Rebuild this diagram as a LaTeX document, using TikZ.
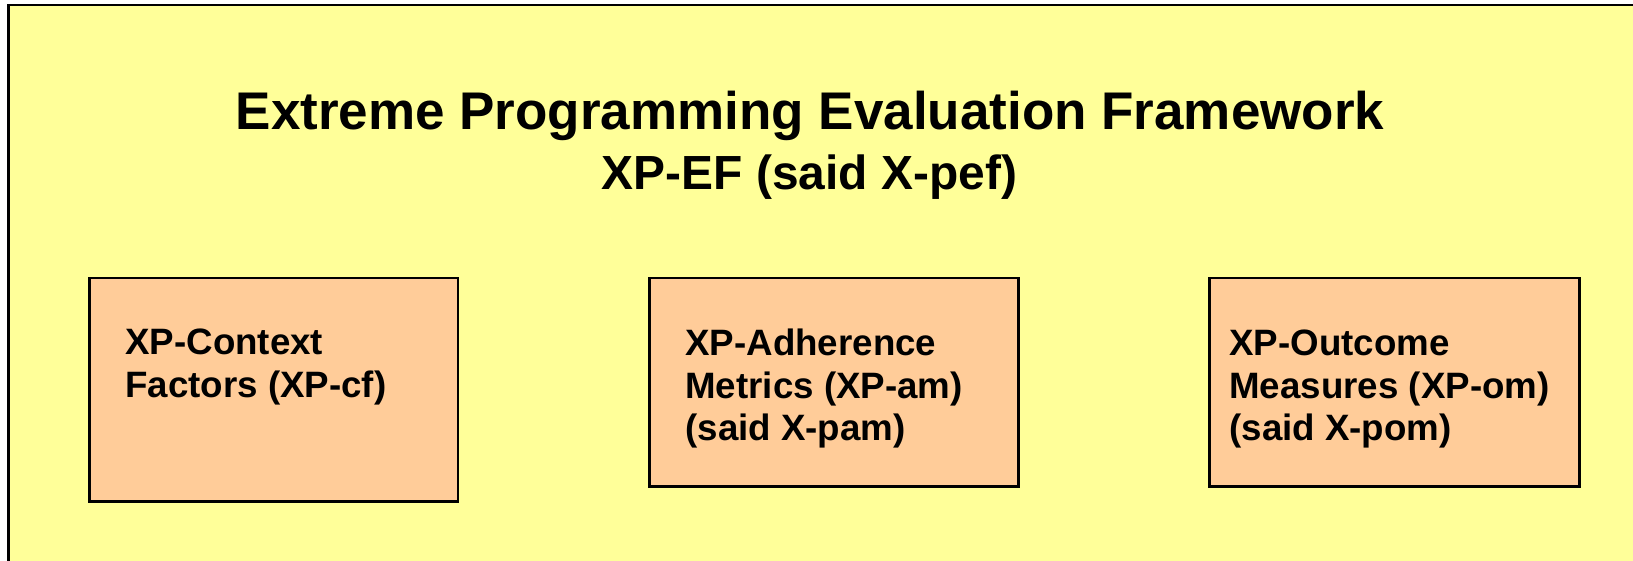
\documentclass[tikz,border=0pt]{standalone}
\usepackage{fontspec}
\setmainfont{Liberation Sans}
\definecolor{panelyellow}{RGB}{255,255,153}
\definecolor{boxpeach}{RGB}{255,204,153}
\begin{document}
\begin{tikzpicture}[x=0.5pt,y=-0.5pt,
  framebox/.style={draw=black,line width=1.25pt,fill=panelyellow},
  partbox/.style={draw=black,line width=1.25pt,fill=boxpeach,inner sep=0pt,anchor=north west},
  partlabel/.style={inner sep=0pt,anchor=base west,font=\fontsize{18.35pt}{21.5pt}\bfseries},
  titleline/.style={inner sep=0pt,anchor=base}]
  \useasboundingbox (0,0) rectangle (1633,561);
  \fill[white] (0,0) rectangle (1633,561);
  \begin{scope}
    \clip (0,0) rectangle (1633,561);
    \draw[framebox] (8.7,5) rectangle (1645,575);
  \end{scope}

  % heading
  \node[titleline,font=\fontsize{26.5pt}{30pt}\bfseries] (title) at (810,130)
    {Extreme Programming Evaluation Framework};
  \node[titleline,font=\fontsize{23.95pt}{28pt}\bfseries] (subtitle) at (809.5,190)
    {XP-EF (said X-pef)};

  % the three parts of the framework
  \node[partbox,minimum width=184.2pt,minimum height=111.65pt] (cf) at (88.3,276.7) {};
  \node[partbox,minimum width=184.5pt,minimum height=104pt] (am) at (648,277) {};
  \node[partbox,minimum width=185pt,minimum height=104pt] (om) at (1208,277) {};

  \node[partlabel] (cftext) at (125,354)
    {\vtop{\baselineskip=21.5pt\hbox{XP-Context}\hbox{Factors (XP-cf)}}};
  \node[partlabel] (amtext) at (685,355)
    {\vtop{\baselineskip=21.5pt\hbox{XP-Adherence}\hbox{Metrics (XP-am)}\hbox{(said X-pam)}}};
  \node[partlabel] (omtext) at (1229,355)
    {\vtop{\baselineskip=21.5pt\hbox{XP-Outcome}\hbox{Measures (XP-om)}\hbox{(said X-pom)}}};
\end{tikzpicture}
\end{document}
